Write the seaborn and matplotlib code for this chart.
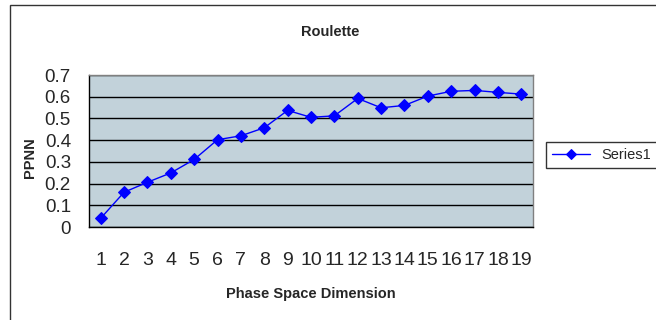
import matplotlib
matplotlib.use('Agg')
import matplotlib.pyplot as plt
import matplotlib.patches as patches
import pandas as pd
import seaborn as sns

# Dados
dimensions = list(range(1, 20))
ppnn = [0.04, 0.16, 0.206, 0.249, 0.311, 0.402, 0.42, 0.457, 0.537, 0.505,
        0.512, 0.592, 0.549, 0.56, 0.603, 0.625, 0.629, 0.62, 0.612]
tick_labels = [str(d) for d in dimensions]

df = pd.DataFrame({'dim': dimensions, 'ppnn': ppnn})

sns.set_style('white')
plt.rcParams['font.family'] = ['Liberation Sans', 'DejaVu Sans']

fig = plt.figure(figsize=(6.56, 3.2), dpi=100)
ax = fig.add_axes([89 / 656, 93 / 320, 444 / 656, 152 / 320])
ax.set_facecolor('#C2D2DA')

sns.lineplot(data=df, x='dim', y='ppnn', ax=ax, color='#0000FF', marker='D',
             markersize=6, markeredgecolor='#0000FF', linewidth=1,
             label='Series1', zorder=3)

ax.set_xlim(0.5, 19.5)
ax.set_ylim(0, 0.7)
ax.set_yticks([0, 0.1, 0.2, 0.3, 0.4, 0.5, 0.6, 0.7])
ax.set_yticklabels(['0', '0.1', '0.2', '0.3', '0.4', '0.5', '0.6', '0.7'], fontsize=13.5)
ax.set_xticks(dimensions)
ax.set_xticklabels(tick_labels, fontsize=14)
ax.set_xticks([d + 0.5 for d in range(0, 20)], minor=True)
ax.tick_params(axis='x', which='major', length=0, pad=18)
ax.tick_params(axis='x', which='minor', length=5, width=1, color='black', direction='out')
ax.tick_params(axis='y', length=6, width=1, color='black', direction='out', pad=7)
ax.yaxis.grid(True, color='black', linewidth=1)
ax.set_axisbelow(True)

for side in ['left', 'bottom']:
    ax.spines[side].set_color('black')
    ax.spines[side].set_linewidth(1)
for side in ['top', 'right']:
    ax.spines[side].set_color('#808080')
    ax.spines[side].set_linewidth(1)

ax.set_xlabel('Phase Space Dimension', fontsize=10.5, fontweight='bold', va='center')
ax.xaxis.set_label_coords(0.5, (227 - 294) / 152)
ax.set_ylabel('PPNN', fontsize=10.5, fontweight='bold', va='center')
ax.yaxis.set_label_coords((30 - 89) / 444, (227 - 157.5) / 152)
fig.text(330 / 656, 1 - 32 / 320, 'Roulette', fontsize=10.5, fontweight='bold',
         ha='center', va='center')

leg = ax.legend(loc='center left', bbox_to_anchor=(546 / 656, 1 - 169 / 320, 0.2, 28 / 320),
                bbox_transform=fig.transFigure, mode='expand', fontsize=10.5,
                frameon=True, fancybox=False, edgecolor='black', handlelength=2.6,
                markerscale=0.8, borderpad=0.4, borderaxespad=0)
leg.get_frame().set_linewidth(1)

# Moldura externa
fig.patches.append(patches.Rectangle((10 / 656, -0.05), 1.0, 1 - 5 / 320 + 0.05,
                                     transform=fig.transFigure, fill=False,
                                     edgecolor='#333333', linewidth=1))

plt.savefig('out.png', dpi=100)
plt.close()
